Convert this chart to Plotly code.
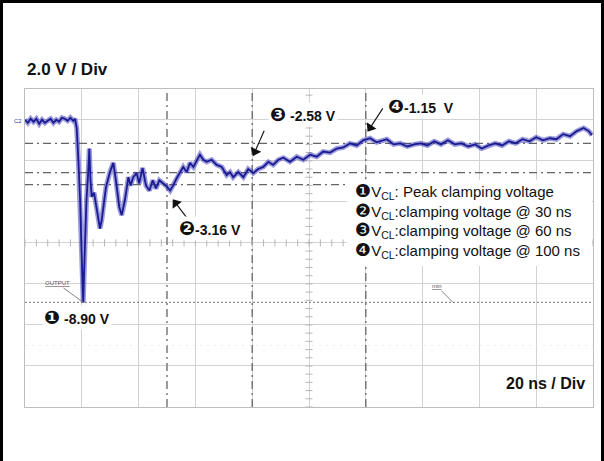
import numpy as np
import plotly.graph_objects as go

# ---------------- data ----------------
time_ns = [-20, -19, -18, -17, -16, -15, -14, -13, -12, -11, -10, -9, -8, -7, -6, -5, -4, -3, -2.4,
           -1.8, -1.2, -0.6, -0.1, 0.5, 0.95, 1.3, 1.65, 2.2, 2.65, 3.05, 3.5, 4.3, 5.25, 6.4, 7.0,
           7.8, 8.5, 9.9, 11.1, 12.0, 13.2, 14.05, 15.2, 16.4, 17.2, 18.1, 19.3, 20.2, 21.4, 22.6,
           23.8, 25.0, 26.1, 27.3, 28.7, 29.9, 31.1, 32.2, 33.4, 34.6, 35.7, 36.9, 38.1, 39.3, 40.5,
           41.6, 42.8, 44.0, 45.7, 47.5, 49.3, 51.0, 52.2, 53.3, 55.1, 56.9, 58.6, 60.4, 62.1, 63.9,
           65.7, 67.4, 69.2, 71.0, 73.3, 75.7, 78.0, 80.4, 82.7, 85.0, 87.4, 89.8, 92.1, 94.4, 96.8,
           99.1, 101.5, 103.8, 107.4, 109.8, 112.2, 114.6, 117.0, 119.3, 121.7, 124.1, 126.5, 128.9,
           131.3, 133.7, 136.1, 138.5, 140.8, 143.2, 145.6, 148.0, 150.4, 152.8, 155.2, 157.6, 160.0,
           162.4, 164.8, 167.1, 169.5, 171.9, 174.3, 176.7, 178.5, 179.6]
volts = [0.0, -0.15, 0.05, -0.1, 0.05, -0.2, 0.0, -0.15, -0.05, 0.05, -0.15, 0.0, -0.1, 0.1, 0.05,
         -0.05, 0.1, -0.05, 0.05,
         -0.4, -2.0, -3.9, -6.35, -8.9, -6.8, -4.5, -3.9, -2.7, -1.4, -2.95, -3.75, -3.55, -4.4, -5.3,
         -4.9, -3.9, -3.3, -2.55, -2.1, -2.95, -4.25, -4.65, -3.9, -2.8, -3.2, -2.8, -2.6, -3.1, -2.35,
         -3.2, -3.45, -2.95, -3.35, -2.95, -3.1, -3.25, -3.45, -3.2, -2.85, -2.55, -2.3, -2.55, -2.1,
         -2.3, -1.95, -1.7, -1.95, -2.05, -1.95, -2.2, -2.3, -2.7, -2.55, -2.8, -2.55, -2.8, -2.4, -2.6,
         -2.4, -2.3, -2.05, -2.2, -1.95, -1.85, -2.05, -1.8, -1.95, -1.7, -1.8, -1.55, -1.6, -1.4, -1.35,
         -1.15, -1.25, -1.0, -0.9, -1.1, -0.95, -1.2, -1.15, -1.3, -1.2, -1.15, -1.25, -1.05, -1.2, -1.0,
         -1.2, -1.15, -1.3, -1.2, -1.4, -1.25, -1.15, -1.25, -1.05, -1.15, -0.95, -1.05, -0.85, -1.0,
         -0.9, -0.95, -0.7, -0.8, -0.55, -0.4, -0.55, -0.75]

cursor_t = [30, 60, 100]           # ns
cursor_v = [-3.16, -2.58, -1.15]   # V
peak_t = 0.5
peak_v = -8.90
cursor_tags = ["\u2777", "\u2778", "\u2779"]
cursor_text = ["-3.16 V", " -2.58 V", "-1.15\u00a0\u00a0V"]
legend_tags = ["\u2776", "\u2777", "\u2778", "\u2779"]
legend_lines = ["V<sub>CL</sub>: Peak clamping voltage",
                "V<sub>CL</sub>:clamping voltage @ 30 ns",
                "V<sub>CL</sub>:clamping voltage @ 60 ns",
                "V<sub>CL</sub>:clamping voltage @ 100 ns"]
x_min, x_max = -20, 180
y_min, y_max = -14, 1.5

# page geometry of the plot area
W, H = 604, 461
L, R, T, B = 25, 593, 89, 407
PXT = (R - L) / (x_max - x_min)      # px per ns
PXV = (B - T) / (y_max - y_min)      # px per V

FONT = "Arial, Liberation Sans, DejaVu Sans, sans-serif"
GRID = "#d2d2d2"
CUR = "#666666"
DASHDOT = "8px,4px,2px,4px"


def big(tag, size):
    return "<span style='font-size:%dpx'>%s</span>" % (size, tag)


def px2paper_y(py):
    return (B - py) / (B - T)


fig = go.Figure()

# center axes tick marks (scope graticule)
hx = np.arange(x_min, x_max + 0.01, 4.0)
vy = np.arange(y_min, y_max, 0.4)
fig.add_trace(go.Scatter(x=hx, y=[-6] * len(hx), mode="markers",
                         marker=dict(symbol="line-ns", size=5, line=dict(color="#b5b5b5", width=1)),
                         hoverinfo="skip", showlegend=False))
fig.add_trace(go.Scatter(x=[80] * len(vy), y=vy, mode="markers",
                         marker=dict(symbol="line-ew", size=5, line=dict(color="#b5b5b5", width=1)),
                         hoverinfo="skip", showlegend=False))

# waveform: halo + core
fig.add_trace(go.Scatter(x=time_ns, y=volts, mode="lines",
                         line=dict(color="rgba(55,55,185,0.5)", width=5),
                         hoverinfo="skip", showlegend=False))
fig.add_trace(go.Scatter(x=time_ns, y=volts, mode="lines",
                         line=dict(color="#1a1a92", width=1.8), showlegend=False))

# cursor crosshairs
fig.add_trace(go.Scatter(x=cursor_t, y=cursor_v, mode="markers",
                         marker=dict(symbol="cross-open", size=9, color="rgba(0,0,0,0)",
                                     line=dict(color="#8a8a8a", width=1.5)),
                         showlegend=False))

# scope markers (trigger position / level)
fig.add_trace(go.Scatter(x=[0], y=[y_min - 4 / PXV], mode="markers", cliponaxis=False,
                         marker=dict(symbol="triangle-up", size=8, color="#1a1a9a"),
                         showlegend=False))
fig.add_trace(go.Scatter(x=[x_max + 5 / PXT], y=[-2.62], mode="markers", cliponaxis=False,
                         marker=dict(symbol="triangle-left", size=8, color="#1a1a9a"),
                         showlegend=False))

# arrows pointing at the cursor points: (tip offset px, tail offset from tip px)
arrow_geo = [(6, 15, 19, 25), (1, -17, 11, -25), (2, -12, 15, -23)]
for t, v, (tdx, tdy, adx, ady) in zip(cursor_t, cursor_v, arrow_geo):
    tip_t, tip_v = t + tdx / PXT, v - tdy / PXV
    tail_t, tail_v = tip_t + adx / PXT, tip_v - ady / PXV
    n = (adx ** 2 + ady ** 2) ** 0.5
    hx_, hy_ = tip_t + 4.5 * adx / n / PXT, tip_v - 4.5 * ady / n / PXV
    ang = float(np.degrees(np.arctan2(-adx, ady)))
    fig.add_trace(go.Scatter(x=[tail_t, hx_], y=[tail_v, hy_], mode="lines",
                             line=dict(color="#111", width=1.1), hoverinfo="skip",
                             showlegend=False))
    fig.add_trace(go.Scatter(x=[hx_], y=[hy_], mode="markers", hoverinfo="skip",
                             marker=dict(symbol="triangle-up", size=10, angle=ang, color="#111",
                                         line=dict(width=0)),
                             showlegend=False))

shapes = []
for t in cursor_t:
    shapes.append(dict(type="line", layer="between", x0=t, x1=t, y0=y_min, y1=y_max,
                       line=dict(color=CUR, width=1.3, dash=DASHDOT)))
for v in cursor_v:
    shapes.append(dict(type="line", layer="between", x0=x_min, x1=x_max, y0=v, y1=v,
                       line=dict(color=CUR, width=1.3, dash=DASHDOT)))
shapes.append(dict(type="line", layer="between", x0=x_min, x1=x_max, y0=peak_v, y1=peak_v,
                   line=dict(color="#8a8a8a", width=1.3, dash="2px,2px")))
shapes.append(dict(type="line", layer="between", x0=x_min, x1=x_max, y0=-11, y1=-11,
                   line=dict(color="#ececec", width=1, dash="2px,5px")))
# white box behind the legend text
shapes.append(dict(type="rect", layer="above", x0=93.4, x1=179.6, y0=-7.13, y1=-2.94,
                   fillcolor="white", line=dict(width=0)))

ann = []
# scale titles
ann.append(dict(xref="paper", yref="paper", x=0.0, y=px2paper_y(70), xanchor="left", yanchor="middle",
                text="<b>2.0 V / Div</b>", showarrow=False, font=dict(family=FONT, size=17, color="#111")))
ann.append(dict(x=177.9, y=-12.83, xanchor="right", yanchor="middle",
                text="<b>20 ns / Div</b>", showarrow=False, font=dict(family=FONT, size=16, color="#111")))

# value labels
ann.append(dict(x=-1.7, y=-9.66, text="<b>" + big("\u2776", 19) + " -8.90 V</b>", showarrow=False,
                bgcolor="white", borderpad=1, font=dict(family=FONT, size=14, color="#111")))
lab_pos = [(45.1, -5.28), (78.0, 0.28), (119.4, 0.67)]
for (lx, ly), tag, txt in zip(lab_pos, cursor_tags, cursor_text):
    ann.append(dict(x=lx, y=ly, text="<b>" + big(tag, 19) + txt + "</b>", showarrow=False,
                    bgcolor="white", borderpad=1, font=dict(family=FONT, size=14, color="#111")))

# scope tags
ann.append(dict(x=peak_t, y=peak_v, ax=-26, ay=-19, text="<u>OUTPUT</u>", showarrow=True,
                arrowhead=0, arrowwidth=0.9, arrowcolor="#777",
                font=dict(family=FONT, size=6, color="#555")))
ann.append(dict(x=130.7, y=peak_v, ax=-16, ay=-16, text="<u>min</u>", showarrow=True,
                arrowhead=0, arrowwidth=0.9, arrowcolor="#777",
                font=dict(family=FONT, size=6, color="#555")))
ann.append(dict(xref="paper", yref="paper", x=-0.002, y=px2paper_y(116), xanchor="right", text="C2",
                showarrow=False, font=dict(family=FONT, size=6, color="#3535a5")))

# legend block (one multi-line text)
legend_text = "<br>".join(big(tag, 18) + txt for tag, txt in zip(legend_tags, legend_lines))
ann.append(dict(x=95.5, y=-4.95, xanchor="left", yanchor="middle", align="left", text=legend_text,
                showarrow=False, font=dict(family=FONT, size=15, color="#111")))

axis_common = dict(showgrid=True, gridcolor=GRID, gridwidth=1, zeroline=False,
                   showticklabels=False, ticks="", showline=True, mirror=True,
                   linecolor="#bdbdbd", linewidth=1.2, fixedrange=True)
fig.update_layout(
    width=W, height=H,
    margin=dict(l=L, r=W - R, t=T, b=H - B),
    paper_bgcolor="white", plot_bgcolor="white",
    xaxis=dict(range=[x_min, x_max], tick0=0, dtick=20, **axis_common),
    yaxis=dict(range=[y_min, y_max], tick0=0, dtick=2, **axis_common),
    shapes=shapes, annotations=ann, showlegend=False,
)

# page: no body margin, black border of the scanned figure (top, left, right)
post = """
document.body.style.margin='0px';
document.body.style.overflow='hidden';
function bar(l,t,w,h){var d=document.createElement('div');
 d.style.cssText='position:fixed;background:#000;z-index:1000;left:'+l+'px;top:'+t+'px;width:'+w+'px;height:'+h+'px';
 document.body.appendChild(d);}
bar(0,0,604,3); bar(0,0,3,461); bar(601,0,3,461);
"""
fig.write_html("out.html", config={"displayModeBar": False}, post_script=post)
